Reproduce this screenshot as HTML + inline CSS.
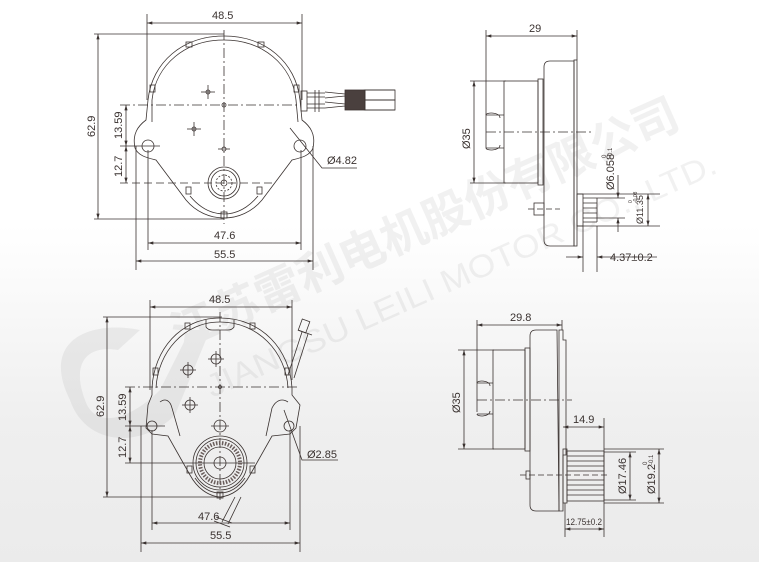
<!DOCTYPE html>
<html><head><meta charset="utf-8"><style>
html,body{margin:0;padding:0;}
body{width:759px;height:562px;overflow:hidden;background:linear-gradient(#ffffff 0%,#ffffff 40%,#efefef 75%,#ebebeb 100%);}
svg{display:block;}
text{font-family:"Liberation Sans","Noto Sans CJK SC",sans-serif;fill:#3a3230;}
</style></head><body>
<svg width="759" height="562" viewBox="0 0 759 562" xmlns="http://www.w3.org/2000/svg">
<defs>
<marker id="a" viewBox="0 0 10 6" refX="10" refY="3" markerWidth="7" markerHeight="4" orient="auto-start-reverse"><path d="M0,0L10,3L0,6z" fill="#3a3230"/></marker>
</defs>
<!-- watermark -->
<g opacity="0.08" fill="#555">
<path d="M70,400 C40,340 90,320 140,330 L118,350 C90,345 70,360 85,400 C95,430 130,420 160,390 L190,330 L210,330 L175,415 C140,450 85,445 70,400Z"/>
<text x="0" y="0" transform="translate(180,350) rotate(-24)" font-size="46" font-weight="bold" textLength="550" lengthAdjust="spacingAndGlyphs" style="fill:#555">江苏雷利电机股份有限公司</text>
<text x="0" y="0" transform="translate(212,398) rotate(-24)" font-size="32" textLength="555" lengthAdjust="spacingAndGlyphs" style="fill:#555">JIANGSU LEILI MOTOR CO., LTD.</text>
</g>
<g stroke="#3a3230" stroke-width="0.8" fill="none">
<!-- ===== TOP LEFT ===== -->
<line x1="147" y1="14" x2="147" y2="100"/><line x1="302" y1="14" x2="302" y2="100"/>
<line x1="147" y1="23" x2="302" y2="23" marker-start="url(#a)" marker-end="url(#a)"/>
<line x1="94" y1="34" x2="224" y2="34"/><line x1="94" y1="219" x2="224" y2="219"/>
<line x1="98" y1="34" x2="98" y2="219" marker-start="url(#a)" marker-end="url(#a)"/>
<line x1="120" y1="146" x2="160" y2="146"/>
<line x1="126" y1="105" x2="126" y2="146" marker-start="url(#a)" marker-end="url(#a)"/>
<line x1="126" y1="146" x2="126" y2="183" marker-start="url(#a)" marker-end="url(#a)"/>
<line x1="120" y1="105" x2="300" y2="105" stroke-dasharray="10,3,2,3"/>
<line x1="120" y1="183" x2="275" y2="183" stroke-dasharray="8,4"/>
<line x1="224" y1="30" x2="224" y2="224" stroke-dasharray="10,3,2,3"/>
<line x1="136" y1="146" x2="136" y2="270"/><line x1="313" y1="146" x2="313" y2="270"/>
<line x1="148" y1="150" x2="148" y2="250"/><line x1="301" y1="150" x2="301" y2="250"/>
<line x1="148" y1="243" x2="301" y2="243" marker-start="url(#a)" marker-end="url(#a)"/>
<line x1="136" y1="261" x2="313" y2="261" marker-start="url(#a)" marker-end="url(#a)"/>
<path d="M224,36 C265,36 296,62 300,100 L302,120 C310,126 316,134 313,148 C310,156 300,158 292,160 L262,200 C252,212 238,218 224,218 C210,218 196,212 186,200 L156,160 C148,158 138,156 135,148 C132,134 138,126 146,120 L148,100 C152,62 183,36 224,36Z"/>
<path d="M224,40 C262,40 292,64 296,100 L298,122 M152,122 L152,100 C156,64 186,40 224,40 M190,196 C200,208 212,214 224,214 C236,214 248,208 258,196"/>
<rect x="186" y="42" width="6" height="5"/><rect x="258" y="42" width="6" height="5"/>
<rect x="150" y="85" width="5" height="7"/><rect x="294" y="85" width="5" height="7"/>
<rect x="186" y="187" width="5" height="7"/><rect x="257" y="187" width="5" height="7"/>
<rect x="221" y="212" width="6" height="6"/>
<circle cx="148" cy="146" r="6"/><circle cx="300" cy="146" r="6"/>
<circle cx="224" cy="105" r="2"/><circle cx="208" cy="92" r="2"/><line x1="201" y1="92" x2="215" y2="92"/><line x1="208" y1="85" x2="208" y2="99"/>
<circle cx="194" cy="129" r="2"/><line x1="187" y1="129" x2="201" y2="129"/><line x1="194" y1="122" x2="194" y2="136"/>
<circle cx="224" cy="149" r="2"/><line x1="218" y1="149" x2="230" y2="149"/>
<circle cx="224" cy="183" r="16"/><circle cx="224" cy="183" r="13"/><circle cx="224" cy="183" r="8" stroke-dasharray="2,1.5"/><circle cx="224" cy="183" r="3"/>
<!-- wires -->
<rect x="301" y="91" width="6" height="20"/>
<path d="M307,93 L325,93 M307,97 L325,97 M307,104 L325,104 M307,108 L325,108"/>
<path d="M315,90 L315,112 M319,90 L319,112"/>
<path d="M325,92 L345,94 L365,90 L395,90 M325,98 L345,96 L365,100 L395,100 M325,102 L345,104 L365,100 M325,108 L345,106 L365,110 L395,110"/>
<rect x="345" y="90" width="20" height="20" fill="#4a403e"/>
<rect x="365" y="90" width="30" height="10"/><rect x="365" y="100" width="30" height="10"/>
<path d="M290,128 L322,168 L357,168"/>
<!-- ===== TOP RIGHT ===== -->
<line x1="486" y1="30" x2="486" y2="148"/><line x1="577" y1="30" x2="577" y2="60"/>
<line x1="486" y1="36" x2="577" y2="36" marker-start="url(#a)" marker-end="url(#a)"/>
<line x1="470" y1="81" x2="506" y2="81"/><line x1="470" y1="183" x2="506" y2="183"/>
<line x1="474" y1="81" x2="474" y2="183" marker-start="url(#a)" marker-end="url(#a)"/>
<rect x="504" y="81" width="34" height="102"/><rect x="538" y="79" width="5" height="106"/>
<path d="M486,115 L504,115 M486,148 L504,148 M486,115 C486,112 500,112 500,118 M486,148 C486,151 500,151 500,145"/>
<path d="M574,61 L550,61 Q544,61 544,67 L544,240 Q544,246 550,246 L574,246 Z"/>
<rect x="574" y="60" width="3" height="186"/>
<line x1="486" y1="132" x2="592" y2="132" stroke-dasharray="10,3,2,3"/>
<rect x="534" y="203" width="10" height="12"/>
<line x1="528" y1="209" x2="560" y2="209" stroke-dasharray="6,3"/>
<rect x="577" y="194" width="6" height="32"/>
<path d="M583,198 L597,198 M583,203 L597,203 M583,208 L597,208 M583,213 L597,213 M583,218 L597,218 M583,222 L597,222"/>
<line x1="597" y1="198" x2="597" y2="222"/>
<line x1="577" y1="194" x2="660" y2="194"/><line x1="577" y1="226" x2="660" y2="226"/>
<line x1="597" y1="198" x2="625" y2="198"/><line x1="597" y1="218" x2="625" y2="218"/>
<line x1="618" y1="175" x2="618" y2="198" marker-end="url(#a)"/><line x1="618" y1="232" x2="618" y2="218" marker-end="url(#a)"/>
<line x1="648" y1="194" x2="648" y2="226" marker-start="url(#a)" marker-end="url(#a)"/>
<line x1="583" y1="226" x2="583" y2="272"/><line x1="597" y1="226" x2="597" y2="272"/>
<line x1="566" y1="257" x2="583" y2="257" marker-end="url(#a)"/><line x1="657" y1="257" x2="597" y2="257" marker-end="url(#a)"/>
<!-- ===== BOTTOM LEFT ===== -->
<line x1="150" y1="300" x2="150" y2="390"/><line x1="292" y1="300" x2="292" y2="380"/>
<line x1="150" y1="307" x2="292" y2="307" marker-start="url(#a)" marker-end="url(#a)"/>
<line x1="103" y1="317" x2="222" y2="317"/><line x1="103" y1="497" x2="222" y2="497"/>
<line x1="107" y1="317" x2="107" y2="497" marker-start="url(#a)" marker-end="url(#a)"/>
<line x1="125" y1="426" x2="165" y2="426"/>
<line x1="130" y1="387" x2="130" y2="426" marker-start="url(#a)" marker-end="url(#a)"/>
<line x1="130" y1="426" x2="130" y2="463" marker-start="url(#a)" marker-end="url(#a)"/>
<line x1="125" y1="387" x2="298" y2="387" stroke-dasharray="10,3,2,3"/>
<line x1="125" y1="463" x2="255" y2="463"/>
<line x1="220" y1="312" x2="220" y2="500" stroke-dasharray="10,3,2,3"/>
<line x1="141" y1="426" x2="141" y2="552"/><line x1="300" y1="426" x2="300" y2="552"/>
<line x1="152" y1="430" x2="152" y2="530"/><line x1="290" y1="430" x2="290" y2="530"/>
<line x1="152" y1="523" x2="290" y2="523" marker-start="url(#a)" marker-end="url(#a)"/>
<line x1="141" y1="543" x2="300" y2="543" marker-start="url(#a)" marker-end="url(#a)"/>
<path d="M220,318 C262,318 290,350 292,388 L292,395 L300,405 L296,428 L290,434 L272,436 L250,475 C243,488 232,496 220,497 C208,496 197,488 190,475 L168,436 L152,434 L146,428 L148,405 L152,395 L152,388 C154,350 180,318 220,318Z"/>
<path d="M220,322 C258,322 286,352 288,388 M156,388 C158,352 184,322 220,322 M195,478 C202,488 210,493 220,493 C230,493 238,488 245,478"/>
<path d="M206,320 L206,327 Q208,330 212,330 L228,330 Q232,330 234,327 L234,320"/>
<path d="M160,402 C165,398 170,400 172,408 L180,436 M288,402 C282,398 276,400 272,408 L266,436"/>
<rect x="185" y="323" width="5" height="6"/><rect x="250" y="323" width="5" height="6"/>
<rect x="153" y="368" width="5" height="7"/><rect x="285" y="368" width="5" height="7"/>
<rect x="187" y="466" width="5" height="7"/><rect x="250" y="466" width="5" height="7"/>
<rect x="217" y="492" width="6" height="6"/>
<circle cx="152" cy="426" r="5"/><circle cx="289" cy="426" r="5"/>
<circle cx="220" cy="387" r="1.5"/>
<circle cx="216" cy="359" r="5"/><line x1="208" y1="359" x2="224" y2="359"/><line x1="216" y1="351" x2="216" y2="367"/>
<circle cx="188" cy="370" r="5"/><line x1="180" y1="370" x2="196" y2="370"/><line x1="188" y1="362" x2="188" y2="378"/>
<circle cx="190" cy="405" r="5"/><line x1="182" y1="405" x2="198" y2="405"/><line x1="190" y1="397" x2="190" y2="413"/>
<circle cx="220" cy="426" r="6"/><line x1="211" y1="426" x2="229" y2="426"/>
<circle cx="220" cy="463" r="27"/><circle cx="220" cy="463" r="24"/><circle cx="220" cy="463" r="20" stroke-width="4" stroke-dasharray="1.5,1.5" stroke="#6a5e5c"/><circle cx="220" cy="463" r="16"/><circle cx="220" cy="463" r="6"/>
<path d="M288,375 L302,332 M294,378 L308,334"/>
<rect x="300" y="320" width="8" height="12" transform="rotate(20 304 326)"/>
<line x1="298" y1="330" x2="312" y2="335"/>
<path d="M235,497 L222,522 M241,497 L228,524"/>
<line x1="216" y1="517" x2="232" y2="523"/><line x1="214" y1="521" x2="230" y2="527"/>
<path d="M284,410 L302,460 L338,460"/>
<!-- ===== BOTTOM RIGHT ===== -->
<line x1="477" y1="320" x2="477" y2="412"/><line x1="562" y1="320" x2="562" y2="330"/>
<line x1="477" y1="325" x2="562" y2="325" marker-start="url(#a)" marker-end="url(#a)"/>
<line x1="458" y1="350" x2="494" y2="350"/><line x1="458" y1="449" x2="494" y2="449"/>
<line x1="464" y1="350" x2="464" y2="449" marker-start="url(#a)" marker-end="url(#a)"/>
<rect x="493" y="350" width="32" height="99"/><rect x="525" y="348" width="5" height="103"/>
<path d="M477,383 L493,383 M477,414 L493,414 M477,383 C477,380 490,380 490,386 M477,414 C477,417 490,417 490,411"/>
<path d="M557,330 L536,330 Q530,330 530,336 L530,505 Q530,511 536,511 L559,511 Z"/>
<path d="M559,330 L559,511 L563,511 L563,455 L566,455 L566,340 L563,340 L563,330 Z"/>
<line x1="477" y1="400" x2="572" y2="400" stroke-dasharray="10,3,2,3"/>
<rect x="526" y="471" width="4" height="8"/>
<line x1="520" y1="475" x2="608" y2="475" stroke-dasharray="6,3"/>
<rect x="563" y="449" width="4" height="54"/>
<rect x="567" y="451" width="37" height="50"/>
<path d="M567,456 L604,456 M567,461 L604,461 M567,466 L604,466 M567,471 L604,471 M567,480 L604,480 M567,485 L604,485 M567,490 L604,490 M567,495 L604,495"/>
<line x1="604" y1="418" x2="604" y2="537"/><line x1="565" y1="503" x2="565" y2="537"/>
<line x1="563" y1="427" x2="604" y2="427" marker-start="url(#a)" marker-end="url(#a)"/>
<line x1="604" y1="452" x2="636" y2="452"/><line x1="604" y1="500" x2="636" y2="500"/>
<line x1="604" y1="449" x2="664" y2="449"/><line x1="604" y1="503" x2="664" y2="503"/>
<line x1="630" y1="452" x2="630" y2="500" marker-start="url(#a)" marker-end="url(#a)"/>
<line x1="659" y1="449" x2="659" y2="503" marker-start="url(#a)" marker-end="url(#a)"/>
<line x1="565" y1="529" x2="604" y2="529" marker-start="url(#a)" marker-end="url(#a)"/>
</g>
<!-- labels -->
<g font-size="11">
<text x="212" y="19">48.5</text>
<text x="0" y="0" transform="translate(95,137) rotate(-90)">62.9</text>
<text x="0" y="0" transform="translate(122,139) rotate(-90)">13.59</text>
<text x="0" y="0" transform="translate(122,177) rotate(-90)">12.7</text>
<text x="214" y="239">47.6</text>
<text x="214" y="258">55.5</text>
<text x="327" y="164">Ø4.82</text>
<text x="529" y="32">29</text>
<text x="0" y="0" transform="translate(470,149) rotate(-90)">Ø35</text>
<text x="0" y="0" transform="translate(614,190) rotate(-90)">Ø6.058</text>
<text x="0" y="0" transform="translate(606,158) rotate(-90)" font-size="6">0</text>
<text x="0" y="0" transform="translate(612,158) rotate(-90)" font-size="6">-0.1</text>
<text x="0" y="0" transform="translate(643,224) rotate(-90)" font-size="9">Ø11.35</text>
<text x="0" y="0" transform="translate(632,203) rotate(-90)" font-size="5">0</text>
<text x="0" y="0" transform="translate(637,203) rotate(-90)" font-size="5">-0.08</text>
<text x="610" y="261">4.37±0.2</text>
<text x="209" y="303">48.5</text>
<text x="0" y="0" transform="translate(104,417) rotate(-90)">62.9</text>
<text x="0" y="0" transform="translate(126,421) rotate(-90)">13.59</text>
<text x="0" y="0" transform="translate(126,458) rotate(-90)">12.7</text>
<text x="198" y="520">47.6</text>
<text x="210" y="539">55.5</text>
<text x="307" y="458">Ø2.85</text>
<text x="510" y="321">29.8</text>
<text x="0" y="0" transform="translate(460,413) rotate(-90)">Ø35</text>
<text x="573" y="423">14.9</text>
<text x="0" y="0" transform="translate(626,494) rotate(-90)">Ø17.46</text>
<text x="0" y="0" transform="translate(655,494) rotate(-90)">Ø19.2</text>
<text x="0" y="0" transform="translate(647,465) rotate(-90)" font-size="6">0</text>
<text x="0" y="0" transform="translate(653,465) rotate(-90)" font-size="6">-0.1</text>
<text x="566" y="525" font-size="9" textLength="36" lengthAdjust="spacingAndGlyphs">12.75±0.2</text>
</g>
</svg>
</body></html>
